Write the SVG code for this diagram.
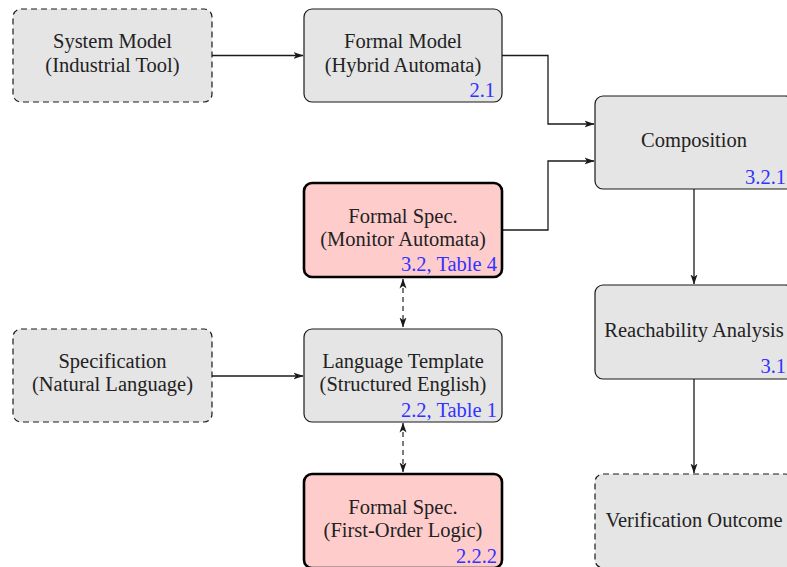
<svg xmlns="http://www.w3.org/2000/svg" width="787" height="567" viewBox="0 0 787 567">
<defs>
<marker id="ah" viewBox="0 0 10 8" refX="9.5" refY="4" markerWidth="10" markerHeight="8" markerUnits="userSpaceOnUse" orient="auto-start-reverse">
<path d="M0,0.5 L10,4 L0,7.5 L2.5,4 Z" fill="#1a1a1a"/>
</marker>
<style>
.box{fill:#e5e5e5;stroke:#1a1a1a;stroke-width:1.2}
.dash{stroke-dasharray:6,4}
.red{fill:#ffcccc;stroke:#000;stroke-width:2.6}
.t{font-family:"Liberation Serif","Times New Roman",serif;font-size:20.5px;fill:#222;text-anchor:middle}
.l{font-family:"Liberation Serif","Times New Roman",serif;font-size:20.5px;fill:#3333ff;text-anchor:end}
.c{fill:none;stroke:#1a1a1a;stroke-width:1.3}
.cd{fill:none;stroke:#333;stroke-width:1.3;stroke-dasharray:5,4}
</style>
</defs>
<rect width="787" height="567" fill="#fff"/>
<g id="connectors">
<path class="c" d="M212,55.5 H303" marker-end="url(#ah)"/>
<path class="c" d="M502,55.5 H548 V124 H594" marker-end="url(#ah)"/>
<path class="c" d="M502,230 H548 V161 H594" marker-end="url(#ah)"/>
<path class="c" d="M694,189 V284" marker-end="url(#ah)"/>
<path class="c" d="M694,379 V473" marker-end="url(#ah)"/>
<path class="c" d="M212,376 H303" marker-end="url(#ah)"/>
<path class="cd" d="M403,279 V327" marker-start="url(#ah)" marker-end="url(#ah)"/>
<path class="cd" d="M403,423 V472" marker-start="url(#ah)" marker-end="url(#ah)"/>
</g>
<g id="system-model">
<rect class="box dash" x="13" y="9" width="199" height="93" rx="8"/>
<text class="t" x="112.5" y="48">System Model</text>
<text class="t" x="112.5" y="72">(Industrial Tool)</text>
</g>
<g id="formal-model">
<rect class="box" x="304" y="9" width="198" height="93" rx="8"/>
<text class="t" x="403" y="48">Formal Model</text>
<text class="t" x="403" y="72">(Hybrid Automata)</text>
<text class="l" x="495" y="97">2.1</text>
</g>
<g id="composition">
<rect class="box" x="595" y="96" width="198" height="93" rx="8"/>
<text class="t" x="694" y="147">Composition</text>
<text class="l" x="786" y="184">3.2.1</text>
</g>
<g id="monitor-spec">
<rect class="red" x="304" y="183" width="198" height="94" rx="8"/>
<text class="t" x="403" y="223">Formal Spec.</text>
<text class="t" x="403" y="246">(Monitor Automata)</text>
<text class="l" x="497" y="271">3.2, Table 4</text>
</g>
<g id="specification">
<rect class="box dash" x="13" y="329" width="199" height="93" rx="8"/>
<text class="t" x="112.5" y="368">Specification</text>
<text class="t" x="112.5" y="391">(Natural Language)</text>
</g>
<g id="language-template">
<rect class="box" x="304" y="329" width="198" height="93" rx="8"/>
<text class="t" x="403" y="368">Language Template</text>
<text class="t" x="403" y="391">(Structured English)</text>
<text class="l" x="497" y="417">2.2, Table 1</text>
</g>
<g id="fol-spec">
<rect class="red" x="304" y="474" width="198" height="94" rx="8"/>
<text class="t" x="403" y="514">Formal Spec.</text>
<text class="t" x="403" y="537">(First-Order Logic)</text>
<text class="l" x="497" y="563">2.2.2</text>
</g>
<g id="reachability">
<rect class="box" x="595" y="285" width="198" height="94" rx="8"/>
<text class="t" x="694" y="337">Reachability Analysis</text>
<text class="l" x="786" y="373">3.1</text>
</g>
<g id="verification">
<rect class="box dash" x="595" y="474" width="198" height="94" rx="8"/>
<text class="t" x="694" y="527">Verification Outcome</text>
</g>
</svg>
